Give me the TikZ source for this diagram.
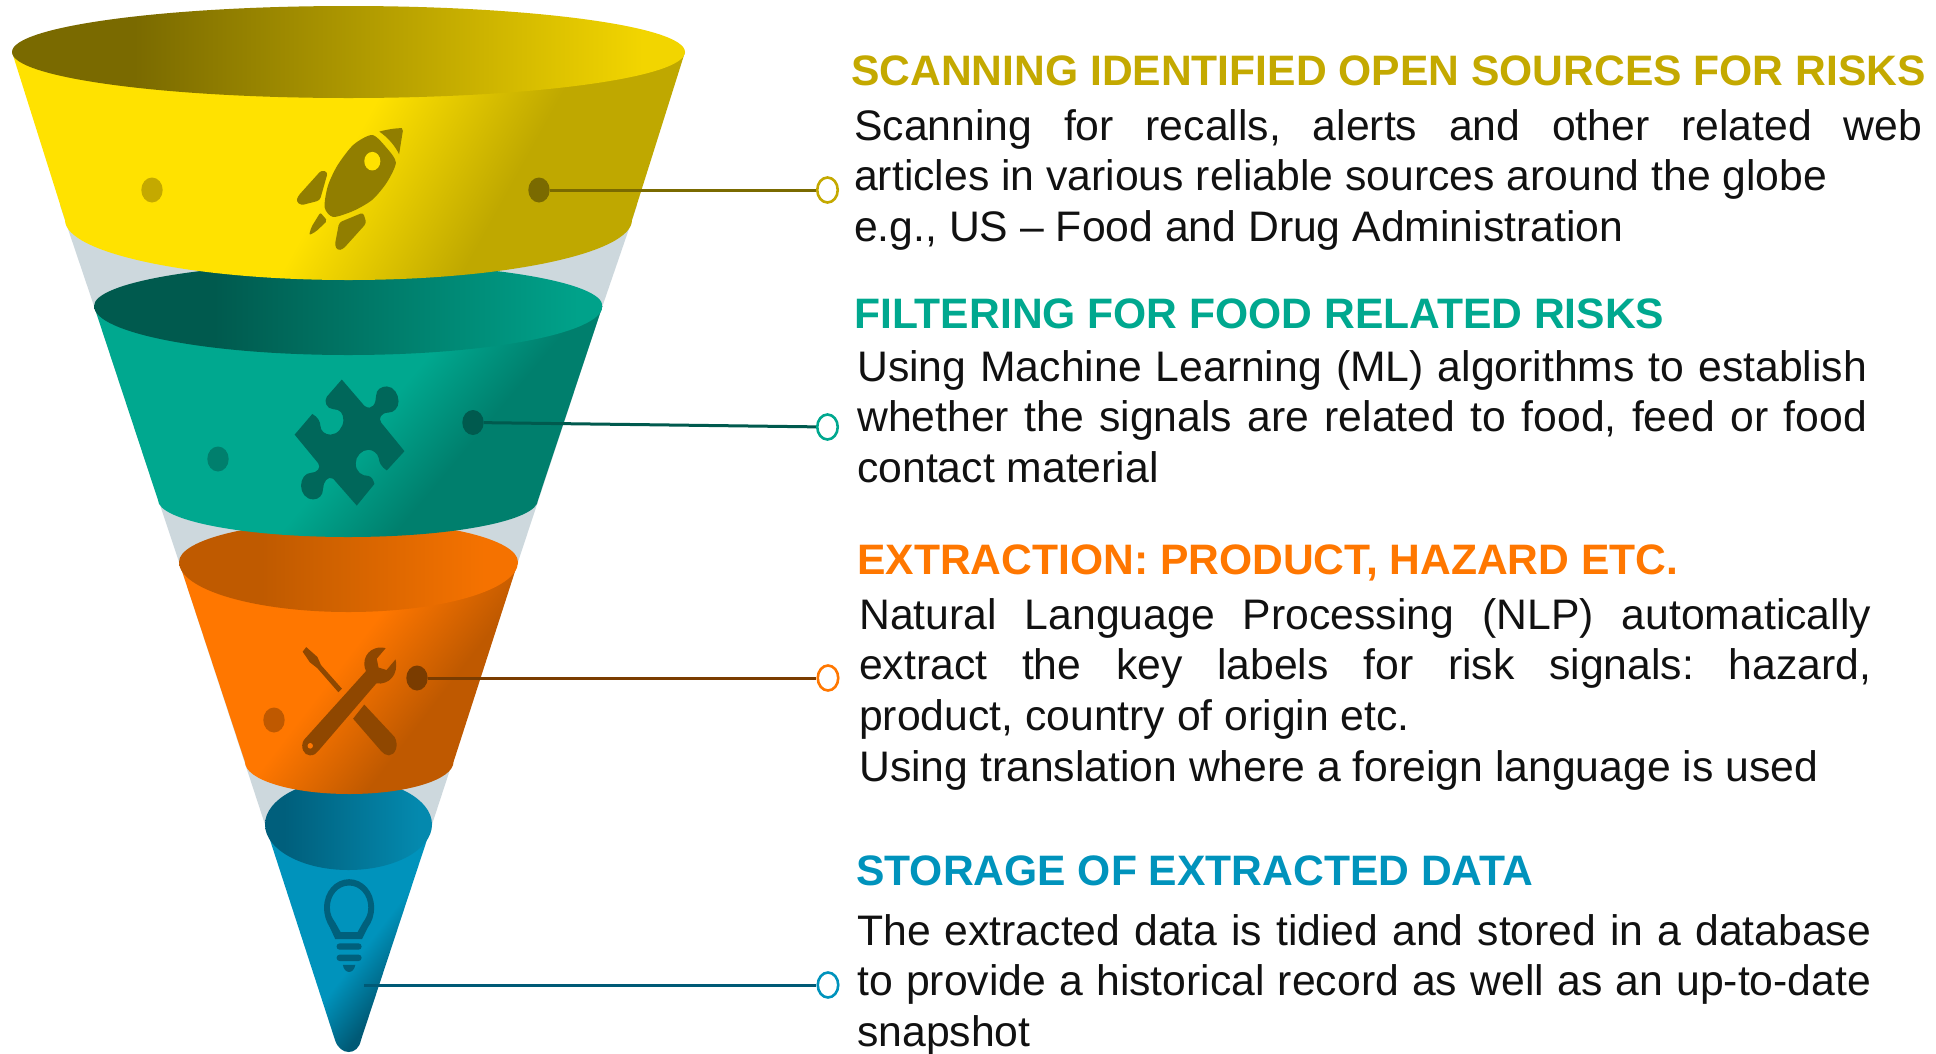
\documentclass[tikz,border=0pt]{standalone}
\usepackage{fontspec}
\setmainfont{Liberation Sans}
\usetikzlibrary{shapes.geometric}
\definecolor{ydark}{HTML}{7A6A00}\definecolor{ylight}{HTML}{F2D500}
\definecolor{ybody}{HTML}{FFE200}\definecolor{yshade}{HTML}{BFA800}
\definecolor{tdark}{HTML}{005A4E}\definecolor{tlight}{HTML}{00A28A}
\definecolor{tbody}{HTML}{00A88F}\definecolor{tshade}{HTML}{007F6D}
\definecolor{odark}{HTML}{BF5A00}\definecolor{olight}{HTML}{F57200}
\definecolor{obody}{HTML}{FF7700}\definecolor{oshade}{HTML}{BF5900}
\definecolor{bdark}{HTML}{005F7C}\definecolor{blight}{HTML}{0489AE}
\definecolor{bbody}{HTML}{0093BC}\definecolor{bshade}{HTML}{005A76}
\definecolor{cone}{HTML}{CDD8DD}
\definecolor{yhead}{HTML}{C4A900}
\definecolor{ytool}{HTML}{917E00}\definecolor{ttool}{HTML}{00675A}
\definecolor{otool}{HTML}{8F4700}\definecolor{btool}{HTML}{00607C}
\definecolor{bodytext}{HTML}{111111}
\pgfdeclarehorizontalshading{yell}{100bp}{color(0bp)=(ydark);color(34.6bp)=(ydark);color(70.9bp)=(ylight);color(100bp)=(ylight)}
\pgfdeclarehorizontalshading{ybod}{100bp}{color(0bp)=(ybody);color(43.33bp)=(ybody);color(47.31bp)=(yshade);color(100bp)=(yshade)}
\pgfdeclarehorizontalshading{tell}{100bp}{color(0bp)=(tdark);color(40.3bp)=(tdark);color(66.3bp)=(tlight);color(100bp)=(tlight)}
\pgfdeclarehorizontalshading{tbod}{100bp}{color(0bp)=(tbody);color(45.98bp)=(tbody);color(48.21bp)=(tshade);color(100bp)=(tshade)}
\pgfdeclarehorizontalshading{oell}{100bp}{color(0bp)=(odark);color(43.7bp)=(odark);color(59.6bp)=(olight);color(100bp)=(olight)}
\pgfdeclarehorizontalshading{obod}{100bp}{color(0bp)=(obody);color(49.3bp)=(obody);color(51.75bp)=(oshade);color(100bp)=(oshade)}
\pgfdeclarehorizontalshading{bell}{100bp}{color(0bp)=(bdark);color(45.3bp)=(bdark);color(54.9bp)=(blight);color(100bp)=(blight)}
\pgfdeclarehorizontalshading{bbod}{100bp}{color(0bp)=(bbody);color(54.08bp)=(bbody);color(55.3bp)=(bshade);color(100bp)=(bshade)}
\newcommand\clipshade[2]{\begin{scope}\clip #1;\shade[shading=#2] (0,0) rectangle (700,1053);\end{scope}}
\newcommand\clipdiag[3]{\begin{scope}\clip #1;\begin{scope}[transform canvas={rotate around={#3:(349,700)}}]\shade[shading=#2] (-651,-300) rectangle (1349,1700);\end{scope}\end{scope}}
\newcommand\jl[2]{\makebox[#1pt][s]{#2}}
\tikzset{
  dotmark/.style={shape=ellipse,minimum width=21.4pt,minimum height=25pt,inner sep=0pt},
  ringmark/.style={shape=ellipse,draw,fill=white,line width=2.6pt,minimum width=20.5pt,minimum height=25pt,inner sep=0pt},
  linkline/.style={line width=3pt},
  headtext/.style={anchor=base west,inner sep=0pt,font=\bfseries\fontsize{42.6}{50}\selectfont},
  blocktext/.style={anchor=north west,inner sep=0pt,align=left,text=bodytext,font=\frenchspacing\fontsize{42.7}{50.8}\selectfont},
  zoomA/.style={x=.5357pt,y=-.3444pt},
  zoomB/.style={shift={(150,500)},x=.4464pt,y=-.3527pt}
}
\begin{document}
\begin{tikzpicture}[x=1pt,y=-1pt]
\useasboundingbox (0,0) rectangle (1936,1053);
\fill[white] (0,0) rectangle (1936,1053);
% grey cone
\fill[cone] (60,205) -- (65,220) -- (94,306) -- (179,562) -- (265,824.5) -- (432,824.5) -- (518,562) -- (602.5,306) -- (632,220) -- (637,205) -- cycle;
% blue
\clipdiag{(265,824.5) -- (335,1040) .. controls (340,1056) and (358,1056) .. (361,1040) -- (432,824.5) -- cycle}{bbod}{-37.6}
\clipshade{(348.5,824.5) ellipse [x radius=83.5,y radius=45.5]}{bell}
% orange
\clipdiag{(179,562) -- (245,762) arc [start angle=180,end angle=0,x radius=104.25,y radius=32] -- (518,562) -- cycle}{obod}{-37.6}
\clipshade{(179,562) arc [start angle=180,end angle=0,x radius=169.5,y radius=50] arc [start angle=0,end angle=-180,x radius=169.5,y radius=41] -- cycle}{oell}
% teal
\clipdiag{(94,306) -- (158,500) arc [start angle=180,end angle=0,x radius=190,y radius=37] -- (602.5,306) -- cycle}{tbod}{-40}
\clipshade{(94,306) arc [start angle=180,end angle=0,x radius=254.25,y radius=49] arc [start angle=0,end angle=-180,x radius=254.25,y radius=43] -- cycle}{tell}
% yellow
\clipdiag{(12,52) -- (65,220) arc [start angle=180,end angle=0,x radius=283.5,y radius=60] -- (685,52) -- cycle}{ybod}{-29}
\clipshade{(348.5,52) ellipse [x radius=336.5,y radius=46]}{yell}
% secondary dots
\node[dotmark,fill=yhead] (dy) at (152,190) {};
\node[dotmark,fill=tshade] (dt) at (218,459) {};
\node[dotmark,fill=oshade] (do) at (274,720) {};
% connector dots and rings
\node[dotmark,fill=ydark] (cy) at (539,190) {};
\node[dotmark,fill=tdark] (ct) at (473,422.5) {};
\node[dotmark,fill=otool!85!black] (co) at (417,678) {};
\coordinate (cb) at (364,985);
\node[ringmark,draw=yhead] (ry) at (827.5,190) {};
\node[ringmark,draw=tbody] (rt) at (827.5,427) {};
\node[ringmark,draw=obody] (ro) at (828,678) {};
\node[ringmark,draw=bbody] (rb) at (828,985) {};
\draw[linkline,draw=ydark] (cy) -- (ry);
\draw[linkline,draw=tdark] (ct) -- (rt);
\draw[linkline,draw=otool!85!black] (co) -- (ro);
\draw[linkline,draw=bshade] (cb) -- (rb);
% rocket
\begin{scope}[zoomA]
\fill[ytool] plot[smooth cycle,tension=.45] coordinates {(695,392) (722,430) (739,472) (722,530) (695,580) (660,612) (622,630) (606,602) (612,540) (630,480) (660,420)};
\fill[ybody] (695,468) ellipse [x radius=15,y radius=27];
\fill[ytool] (708,382) .. controls (725,375) and (740,372) .. (750,372) -- (752,380) -- (745,448) .. controls (738,425) and (725,400) .. (708,382) -- cycle;
\fill[ytool,rounded corners=3pt] (600,494) -- (612,500) -- (597,582) -- (562,596) -- (553,585) -- (556,570) -- cycle;
\fill[ytool,rounded corners=2pt] (598,617) -- (611,641) -- (590,672) -- (577,683) -- (581,660) -- cycle;
\fill[ytool,rounded corners=3pt] (633,646) -- (678,617) -- (684,648) -- (640,724) -- (630,727) -- (625,712) -- cycle;
% puzzle
\fill[ttool] (638,1102) -- (680,1178) .. controls (695,1195) and (702,1170) .. (702,1150) .. controls (702,1130) and (712,1122) .. (722,1122) .. controls (735,1122) and (744,1145) .. (744,1165) .. controls (744,1185) and (735,1198) .. (725,1198) .. controls (712,1198) and (705,1215) .. (712,1228) -- (755,1310) -- (722,1366) .. controls (712,1355) and (708,1345) .. (707,1330) .. controls (705,1315) and (695,1306) .. (688,1306) .. controls (675,1306) and (664,1325) .. (664,1345) .. controls (664,1370) and (675,1382) .. (688,1382) .. controls (695,1385) and (697,1395) .. (699,1405) -- (666,1468) -- (622,1390) .. controls (612,1380) and (603,1400) .. (603,1420) .. controls (603,1438) and (595,1450) .. (585,1450) .. controls (570,1450) and (562,1430) .. (562,1410) .. controls (562,1390) and (570,1373) .. (580,1373) .. controls (592,1373) and (600,1358) .. (594,1345) -- (550,1262) -- (583,1202) .. controls (593,1210) and (598,1225) .. (598,1235) .. controls (598,1252) and (607,1262) .. (617,1262) .. controls (630,1262) and (641,1240) .. (641,1220) .. controls (641,1200) and (635,1188) .. (622,1188) .. controls (610,1188) and (604,1165) .. (610,1152) -- cycle;
\end{scope}
\begin{scope}[zoomB]
% wrench
\fill[otool] (528,420) .. controls (505,412) and (480,430) .. (480,465) .. controls (480,472) and (482,480) .. (484,485) -- (345,680) .. controls (335,700) and (345,724) .. (358,724) .. controls (368,724) and (374,718) .. (378,710) -- (507,520) .. controls (535,525) and (558,495) .. (550,452) -- (530,482) -- (512,475) -- (508,450) -- cycle;
\fill[obody] (359,697) ellipse [x radius=6,y radius=8];
% screwdriver
\fill[otool] (350,417) -- (342,430) -- (358,460) -- (375,477) -- (422,545) -- (430,535) -- (383,468) -- (375,445) -- cycle;
\fill[otool] (480,580) -- (548,672) .. controls (558,695) and (550,724) .. (535,724) .. controls (528,724) and (522,718) .. (518,712) -- (455,620) -- cycle;
% bulb
\fill[btool,even odd rule] (415,1245) -- (403,1212) .. controls (395,1195) and (390,1180) .. (390,1155) .. controls (390,1110) and (415,1075) .. (446,1075) .. controls (477,1075) and (502,1110) .. (502,1155) .. controls (502,1180) and (497,1195) .. (488,1212) -- (475,1245) -- cycle
 (427,1225) -- (415,1198) .. controls (408,1185) and (403,1175) .. (403,1155) .. controls (403,1120) and (422,1093) .. (446,1093) .. controls (470,1093) and (489,1120) .. (489,1155) .. controls (489,1175) and (484,1185) .. (477,1198) -- (465,1225) -- cycle;
\fill[btool,rounded corners=3pt] (418,1257) rectangle (474,1275);
\fill[btool,rounded corners=3pt] (418,1289) rectangle (474,1307);
\fill[btool] (432,1318) -- (460,1318) .. controls (458,1332) and (452,1338) .. (446,1338) .. controls (440,1338) and (434,1332) .. (432,1318) -- cycle;
\end{scope}
% text
\node[headtext,text=yhead] (h1) at (851,85) {SCANNING IDENTIFIED OPEN SOURCES FOR RISKS};
\node[blocktext] (b1) at (854,109) {\jl{1068}{Scanning for recalls, alerts and other related web}\\articles in various reliable sources around the globe\\e.g., US – Food and Drug Administration};
\node[headtext,text=tbody] (h2) at (854,328) {FILTERING FOR FOOD RELATED RISKS};
\node[blocktext] (b2) at (857,350) {\jl{1010}{Using Machine Learning (ML) algorithms to establish}\\\jl{1010}{whether the signals are related to food, feed or food}\\contact material};
\node[headtext,text=obody] (h3) at (857,574) {EXTRACTION: PRODUCT, HAZARD ETC.};
\node[blocktext] (b3) at (859,598) {\jl{1012}{Natural Language Processing (NLP) automatically}\\\jl{1012}{extract the key labels for risk signals: hazard,}\\product, country of origin etc.\\Using translation where a foreign language is used};
\node[headtext,text=bbody] (h4) at (856,885) {STORAGE OF EXTRACTED DATA};
\node[blocktext] (b4) at (857,914) {\jl{1014}{The extracted data is tidied and stored in a database}\\\jl{1014}{to provide a historical record as well as an up-to-date}\\snapshot};
\end{tikzpicture}
\end{document}
